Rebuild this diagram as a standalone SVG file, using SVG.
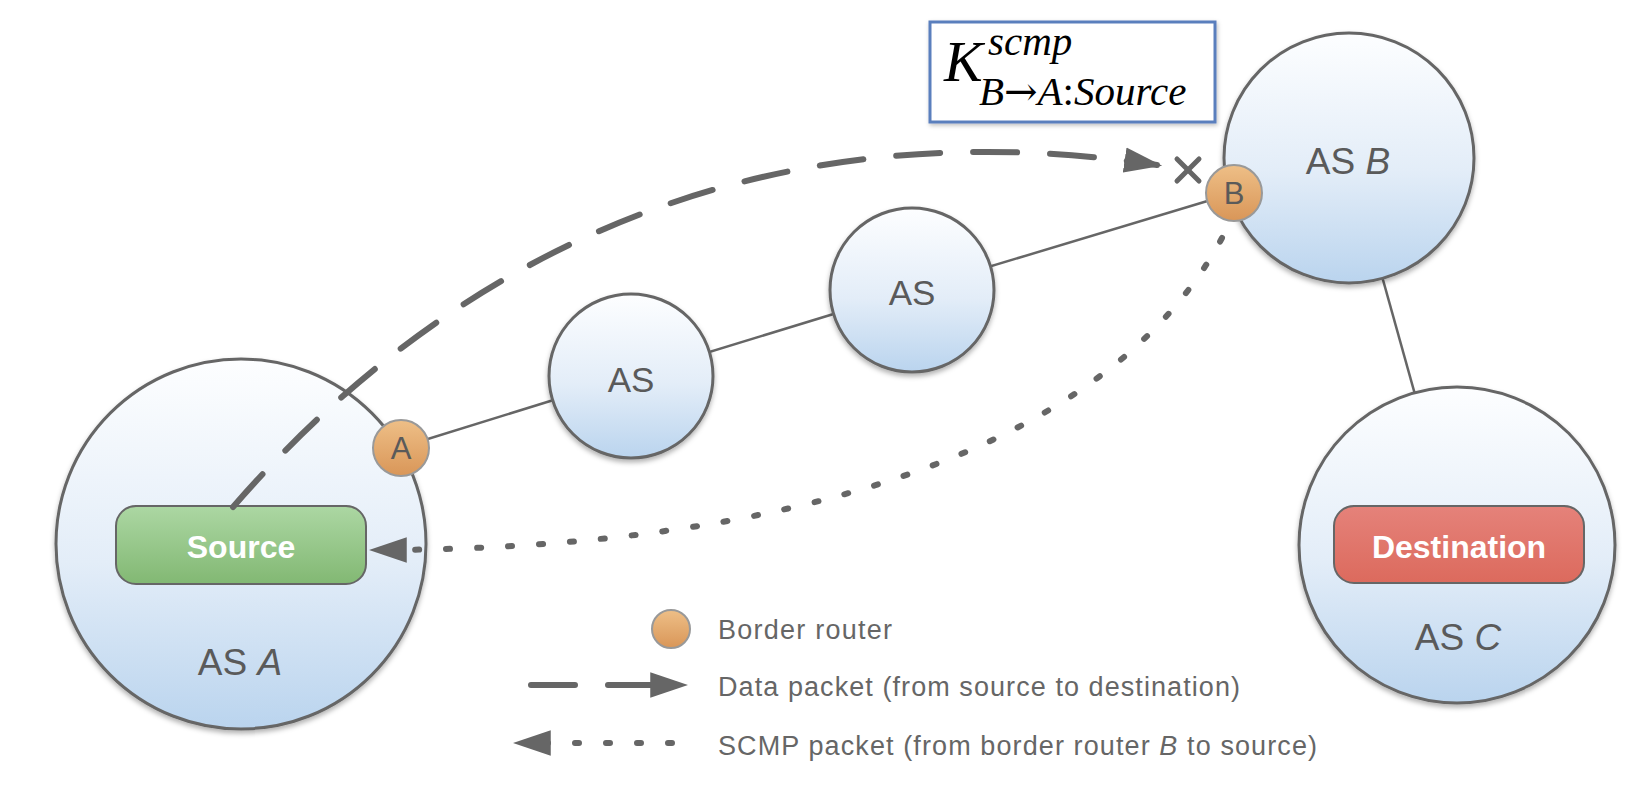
<svg xmlns="http://www.w3.org/2000/svg" width="1650" height="810" viewBox="0 0 1650 810">
<style>
.as{stroke:#666;stroke-width:3;fill:url(#gAS);filter:url(#sh)}
.rt{stroke:#999;stroke-width:2;fill:url(#gRt)}
.link{stroke:#666;stroke-width:2.5;fill:none}
.lbl{font-family:"Liberation Sans",Arial,sans-serif;fill:#5a5a5a;text-anchor:middle}
.box{font-family:"Liberation Sans",Arial,sans-serif;font-weight:bold;fill:#fff;font-size:32px;text-anchor:middle}
.leg{font-family:"Liberation Sans",Arial,sans-serif;fill:#666;font-size:27px}
.data{stroke:#666;stroke-width:6;fill:none;stroke-linecap:round;stroke-dasharray:44 33}
.scmp{stroke:#666;stroke-width:6;fill:none;stroke-linecap:round;stroke-dasharray:4 27}
.math{font-family:"Liberation Serif","Times New Roman",serif;fill:#000;font-style:italic}
</style>
<defs>
<linearGradient id="gAS" x1="0" y1="0" x2="0" y2="1">
<stop offset="0" stop-color="#fdfeff"/><stop offset="0.55" stop-color="#e3edf8"/><stop offset="1" stop-color="#bad4ee"/>
</linearGradient>
<linearGradient id="gRt" x1="0" y1="0" x2="0" y2="1">
<stop offset="0" stop-color="#eebf87"/><stop offset="1" stop-color="#d99658"/>
</linearGradient>
<linearGradient id="gSrc" x1="0" y1="0" x2="0" y2="1">
<stop offset="0" stop-color="#acd7a3"/><stop offset="1" stop-color="#82b873"/>
</linearGradient>
<linearGradient id="gDst" x1="0" y1="0" x2="0" y2="1">
<stop offset="0" stop-color="#e5827a"/><stop offset="1" stop-color="#dc6a5d"/>
</linearGradient>
<filter id="sh" x="-10%" y="-10%" width="120%" height="125%">
<feDropShadow dx="0" dy="3" stdDeviation="2.5" flood-color="#000" flood-opacity="0.3"/>
</filter>
<filter id="bsh" x="-5%" y="-10%" width="110%" height="125%">
<feDropShadow dx="1" dy="2" stdDeviation="2" flood-color="#000" flood-opacity="0.25"/>
</filter>
<marker id="arr" markerUnits="userSpaceOnUse" markerWidth="38" markerHeight="26" viewBox="0 0 36 24" refX="31" refY="12" orient="auto">
<path d="M0,0 L36,12 L0,24 z" fill="#666"/>
</marker>
</defs>
<rect width="1650" height="810" fill="#fff"/>

<g id="links">
<line class="link" x1="402" y1="447" x2="631" y2="376"/>
<line class="link" x1="631" y1="376" x2="912" y2="290"/>
<line class="link" x1="912" y1="290" x2="1234" y2="193"/>
<line class="link" x1="1349" y1="158" x2="1457" y2="545"/>
</g>

<g id="as-a">
<circle class="as" cx="241" cy="544" r="185"/>
<text class="lbl" x="240" y="675" font-size="37">AS <tspan font-style="italic">A</tspan></text>
</g>
<g id="as-1">
<circle class="as" cx="631" cy="376" r="82"/>
<text class="lbl" x="631" y="392" font-size="35">AS</text>
</g>
<g id="as-2">
<circle class="as" cx="912" cy="290" r="82"/>
<text class="lbl" x="912" y="305" font-size="35">AS</text>
</g>
<g id="as-b">
<circle class="as" cx="1349" cy="158" r="125"/>
<text class="lbl" x="1348" y="174" font-size="37">AS <tspan font-style="italic">B</tspan></text>
</g>
<g id="as-c">
<circle class="as" cx="1457" cy="545" r="158"/>
<text class="lbl" x="1458" y="650" font-size="37">AS <tspan font-style="italic">C</tspan></text>
</g>
<g id="source">
<rect x="116" y="506" width="250" height="78" rx="20" fill="url(#gSrc)" stroke="#666" stroke-width="2"/>
<text class="box" x="241" y="558">Source</text>
</g>
<g id="destination">
<rect x="1334" y="506" width="250" height="77" rx="20" fill="url(#gDst)" stroke="#666" stroke-width="2"/>
<text class="box" x="1459" y="558">Destination</text>
</g>
<g id="router-a">
<circle class="rt" cx="401" cy="448" r="28"/>
<text class="lbl" x="401" y="459" font-size="31">A</text>
</g>
<g id="router-b">
<circle class="rt" cx="1234" cy="193" r="28"/>
<text class="lbl" x="1234" y="204" font-size="31">B</text>
</g>

<g id="packets">
<path class="data" d="M233,507 C509,190 846,118 1157,165" marker-end="url(#arr)"/>
<path class="scmp" d="M1222,238 C1104,458 769,550 374,550" marker-end="url(#arr)"/>
</g>

<g id="drop-mark" stroke="#666" stroke-width="5" stroke-linecap="round">
<line x1="1177" y1="159" x2="1199" y2="181"/>
<line x1="1199" y1="159" x2="1177" y2="181"/>
</g>

<g id="key-label">
<rect x="930" y="22" width="285" height="100" fill="#fff" stroke="#5a7fbd" stroke-width="3" filter="url(#bsh)"/>
<text class="math" x="944" y="81" font-size="58">K</text>
<text class="math" x="988" y="55" font-size="41">scmp</text>
<text class="math" x="979" y="105" font-size="41">B<tspan font-style="normal" font-family="'DejaVu Serif',serif" font-size="40">→</tspan>A<tspan font-style="normal">:</tspan>Source</text>
</g>

<g id="legend">
<circle class="rt" cx="671" cy="629" r="19"/>
<text class="leg" x="718" y="639" textLength="174" lengthAdjust="spacing">Border router</text>
<line class="data" x1="531" y1="685" x2="683" y2="685" stroke-dasharray="46 36" marker-end="url(#arr)"/>
<text class="leg" x="718" y="696" textLength="522" lengthAdjust="spacing">Data packet (from source to destination)</text>
<path class="scmp" d="M672,743 L518,743" marker-end="url(#arr)"/>
<text class="leg" x="718" y="755" textLength="599" lengthAdjust="spacing">SCMP packet (from border router <tspan font-style="italic">B</tspan> to source)</text>
</g>
</svg>
